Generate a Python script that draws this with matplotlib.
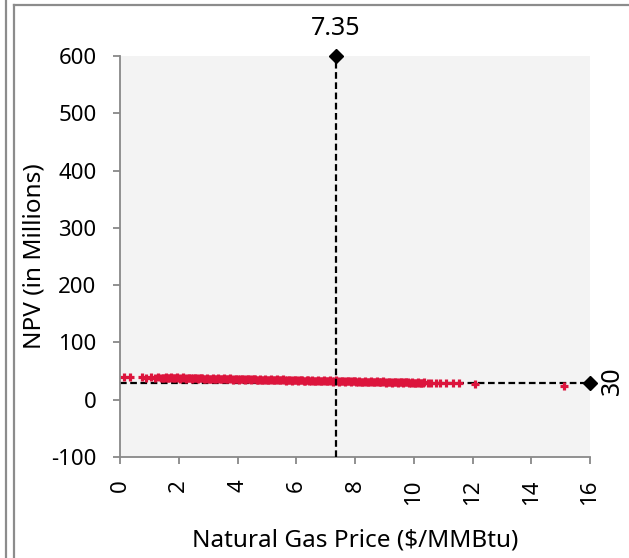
import numpy as np
import matplotlib
matplotlib.use("Agg")
import matplotlib.pyplot as plt
from matplotlib.lines import Line2D

plt.rcParams['font.family'] = ['Noto Sans', 'DejaVu Sans']
plt.rcParams['axes.unicode_minus'] = False

# simulated NPV outcomes vs. natural gas price
gas_price = [0.15, 0.35, 0.75, 0.9, 1.05, 1.2, 1.3, 1.45, 1.55, 1.65, 1.75, 1.85,
             1.95, 2.05, 2.15, 2.25, 2.35, 2.45, 2.55, 2.65, 2.75, 2.85, 2.95, 3.05,
             3.15, 3.25, 3.35, 3.45, 3.55, 3.65, 3.75, 3.85, 3.95, 4.05, 4.15, 4.25,
             4.35, 4.45, 4.55, 4.65, 4.75, 4.85, 4.95, 5.05, 5.15, 5.25, 5.35, 5.45,
             5.55, 5.65, 5.75, 5.85, 5.95, 6.05, 6.15, 6.25, 6.35, 6.45, 6.55, 6.65,
             6.75, 6.85, 6.95, 7.05, 7.15, 7.25, 7.35, 7.45, 7.55, 7.65, 7.75, 7.85,
             7.95, 8.05, 8.15, 8.25, 8.35, 8.45, 8.55, 8.65, 8.75, 8.85, 8.95, 9.05,
             9.15, 9.25, 9.35, 9.45, 9.55, 9.65, 9.75, 9.85, 9.95, 10.05, 10.15, 10.25,
             10.35, 10.5, 10.6, 10.75, 10.9, 11.1, 11.35, 11.55, 12.1, 15.1]
npv = [40.1, 40.0, 40.3, 38.3, 39.9, 37.9, 39.7, 37.6, 39.4, 37.4, 39.2, 37.2,
       39.0, 37.0, 38.8, 36.8, 38.6, 36.6, 38.4, 36.4, 38.2, 36.2, 38.0, 36.0,
       37.8, 35.8, 37.6, 35.6, 37.4, 35.4, 37.2, 35.2, 37.0, 35.0, 36.8, 34.8,
       36.6, 34.6, 36.4, 34.4, 36.2, 34.2, 36.0, 34.0, 35.8, 33.8, 35.6, 33.6,
       35.4, 33.4, 35.2, 33.2, 35.0, 33.0, 34.8, 32.8, 34.6, 32.6, 34.4, 32.4,
       34.2, 32.2, 34.0, 32.0, 33.8, 31.8, 33.6, 31.6, 33.4, 31.4, 33.2, 31.2,
       33.0, 31.0, 32.8, 30.8, 32.6, 30.6, 32.4, 30.4, 32.2, 30.2, 32.0, 30.0,
       31.8, 29.8, 31.6, 29.6, 31.4, 29.4, 31.2, 29.2, 31.0, 29.0, 30.8, 28.8,
       30.6, 29.5, 29.3, 29.2, 29.0, 28.9, 28.6, 28.4, 27.6, 24.0]

# more runs packed into the dense middle of the band
gas_price_mid = [1.4, 1.5, 1.6, 1.7, 1.8, 1.9, 2.0, 2.1, 2.2, 2.3, 2.4, 2.5,
                 2.6, 2.7, 2.8, 2.9, 3.0, 3.1, 3.2, 3.3, 3.4, 3.5, 3.6, 3.7,
                 3.8, 3.9, 4.0, 4.1, 4.2, 4.3, 4.4, 4.5, 4.6, 4.7, 4.8, 4.9,
                 5.0, 5.1, 5.2, 5.3, 5.4, 5.5, 5.6, 5.7, 5.8, 5.9, 6.0, 6.1,
                 6.2, 6.3, 6.4, 6.5, 6.6, 6.7, 6.8, 6.9, 7.0, 7.1, 7.2, 7.3,
                 7.4, 7.5, 7.6, 7.7, 7.8, 7.9, 8.0, 8.1, 8.2, 8.3, 8.4, 8.5,
                 8.6, 8.7, 8.8, 8.9, 9.0, 9.1, 9.2, 9.3, 9.4, 9.5, 9.6, 9.7,
                 9.8, 9.9, 10.0, 10.1, 10.2, 10.3]
npv_mid = [38.6, 38.3, 38.4, 38.1, 38.2, 37.9, 38.0, 37.7, 37.8, 37.5, 37.6, 37.3,
           37.4, 37.1, 37.2, 36.9, 37.0, 36.7, 36.8, 36.5, 36.6, 36.3, 36.4, 36.1,
           36.2, 35.9, 36.0, 35.7, 35.8, 35.5, 35.6, 35.3, 35.4, 35.1, 35.2, 34.9,
           35.0, 34.7, 34.8, 34.5, 34.6, 34.3, 34.4, 34.1, 34.2, 33.9, 34.0, 33.7,
           33.8, 33.5, 33.6, 33.3, 33.4, 33.1, 33.2, 32.9, 33.0, 32.7, 32.8, 32.5,
           32.6, 32.3, 32.4, 32.1, 32.2, 31.9, 32.0, 31.7, 31.8, 31.5, 31.6, 31.3,
           31.4, 31.1, 31.2, 30.9, 31.0, 30.7, 30.8, 30.5, 30.6, 30.3, 30.4, 30.1,
           30.2, 29.9, 30.0, 29.7, 29.8, 29.5]

base_price = 7.35
base_npv = 30

fig = plt.figure(figsize=(6.29, 5.58), dpi=100)
ax = fig.add_axes([0.1908, 0.181, 0.7472, 0.7186])
ax.set_facecolor('#f3f3f3')

ax.plot(gas_price + gas_price_mid, npv + npv_mid, linestyle='none', marker='+',
        color='#dc143c', markersize=5.5, markeredgewidth=2.3, zorder=2)

# base case reference lines
ax.plot([base_price, base_price], [-100, 600], color='black', lw=1.6,
        dashes=(3, 1.6), zorder=3)
ax.plot([0, 16], [base_npv, base_npv], color='black', lw=1.6,
        dashes=(3, 1.6), zorder=1.5)
ax.plot([base_price], [600], marker='D', color='black', markersize=7,
        clip_on=False, zorder=4)
ax.plot([16], [base_npv], marker='D', color='black', markersize=7,
        clip_on=False, zorder=4)
ax.annotate(f"{base_price}", (base_price, 600), xytext=(0, 11),
            textcoords='offset points', ha='center', va='bottom', fontsize=18)
ax.annotate(f"{base_npv}", (16, base_npv), xytext=(7, 1),
            textcoords='offset points', ha='left', va='center', fontsize=18,
            rotation=90)

ax.set_xlim(0, 16)
ax.set_ylim(-100, 600)
ax.set_xticks(np.arange(0, 17, 2))
ax.set_yticks(np.arange(-100, 601, 100))

for s in ['top', 'right']:
    ax.spines[s].set_visible(False)
for s in ['left', 'bottom']:
    ax.spines[s].set_color('#888888')
    ax.spines[s].set_linewidth(1.3)

ax.tick_params(axis='both', colors='#888888', labelcolor='black',
               labelsize=16, length=5, width=1.3)
ax.tick_params(axis='y', pad=12)
ax.tick_params(axis='x', pad=11, labelrotation=90)

ax.set_xlabel("Natural Gas Price ($/MMBtu)", fontsize=17.5, labelpad=17)
ax.set_ylabel("NPV (in Millions)", fontsize=17.5, labelpad=3)

# chart frame borders (cropped)
frame = '#8c8c8c'
fig.add_artist(Line2D([5.5 / 629, 5.5 / 629], [0, 1], color=frame, lw=1.6,
                      transform=fig.transFigure))
fig.add_artist(Line2D([13.5 / 629, 13.5 / 629], [0, 1 - 4.5 / 558], color=frame,
                      lw=1.6, transform=fig.transFigure))
fig.add_artist(Line2D([13.5 / 629, 1], [1 - 4.5 / 558, 1 - 4.5 / 558],
                      color=frame, lw=1.6, transform=fig.transFigure))

fig.savefig("out.png", dpi=100)
